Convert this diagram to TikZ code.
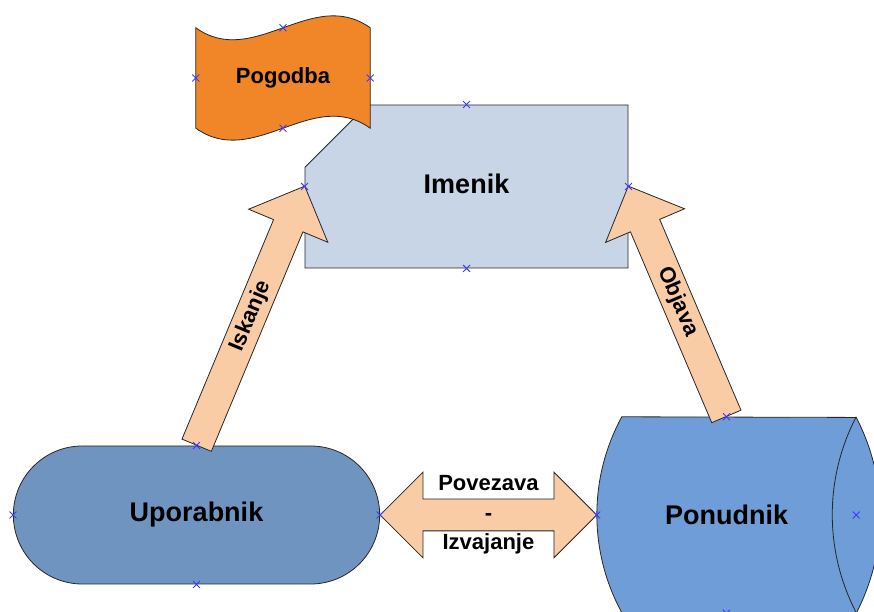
\documentclass[tikz,border=0pt]{standalone}
\usepackage{fontspec}
\setmainfont{Liberation Sans}
\usetikzlibrary{shapes,shapes.arrows,shapes.misc,calc}
\definecolor{imenikblue}{HTML}{C8D5E6}
\definecolor{pogodbaorange}{HTML}{F08628}
\definecolor{uporabnikblue}{HTML}{7094C0}
\definecolor{ponudnikblue}{HTML}{6E9DD8}
\definecolor{arrowpeach}{HTML}{FACCA6}
\definecolor{markblue}{HTML}{3B3BFF}

\begin{document}
\begin{tikzpicture}
  [x=1pt, y=1pt,
   entity/.style={
     draw=black!85,
     line width=0.8pt,
     font=\fontsize{27}{32}\selectfont\bfseries
     },
   fatarrow/.style={
     draw=black!85,
     line width=0.8pt,
     fill=arrowpeach,
     text height=15pt,
     text depth=4pt,
     inner ysep=6pt,
     single arrow head extend=27pt,
     double arrow head extend=27pt
     },
   arrowtext/.style={font=\fontsize{22}{29.5}\selectfont\bfseries, align=center},
   anchormark/.style={cross out, draw=markblue, line width=0.9pt, minimum size=6pt, inner sep=0pt}
  ]
  \useasboundingbox (0,0) rectangle (874,612);

  \node [
    entity,
    chamfered rectangle,
    chamfered rectangle corners=north west,
    chamfered rectangle xsep=54pt,
    chamfered rectangle ysep=54pt,
    fill=imenikblue,
    minimum width=323pt,
    minimum height=163pt,
    text depth=6pt
    ]
    (imenik) at (466.5,425.5) {Imenik};

  % zastavica
  \node [minimum width=174pt, minimum height=100pt] (pogodba) at (283,534) {};
  \filldraw [entity, fill=pogodbaorange]
    (pogodba.north west) .. controls +(58,-41.5) and +(-58,41.5) .. (pogodba.north east)
    -- (pogodba.south east) .. controls +(-58,41.5) and +(58,-41.5) .. (pogodba.south west)
    -- cycle;
  \node [entity, draw=none, font=\fontsize{22}{26}\selectfont\bfseries] (pogodbatext) at (pogodba.center) {Pogodba};

  \node [
    entity,
    rounded rectangle,
    fill=uporabnikblue,
    minimum width=373pt,
    minimum height=138pt
    ]
    (uporabnik) at (196.5,97) {Uporabnik};

  % valj
  \node [minimum width=259pt, minimum height=196pt] (ponudnik) at (726.5,97) {};
  \filldraw [entity, fill=ponudnikblue]
    ($(ponudnik.north west)+(25,0)$) arc[start angle=151.4, end angle=208.6, radius=204.6]
    -- (ponudnik.south east) arc[start angle=-27.5, end angle=27.5, radius=212]
    -- cycle;
  \draw [entity] (ponudnik.north east) arc[start angle=152.5, end angle=207.5, radius=212];
  \node [entity, draw=none] (ponudniktext) at (ponudnik.center) {Ponudnik};

  % puscice
  \path let \p1 = ($(imenik.west)-(uporabnik.north)$) in
    node [fatarrow, single arrow, anchor=tail, rotate={atan2(\y1,\x1)}, minimum height={veclen(\x1,\y1)}]
      (iskanjearrow) at (uporabnik.north) {}
    node [arrowtext, rotate={atan2(\y1,\x1)}]
      (iskanje) at ($(uporabnik.north)!0.5!(imenik.west)$) {Iskanje};

  \path let \p1 = ($(imenik.east)-(ponudnik.north)$) in
    node [fatarrow, single arrow, anchor=tail, rotate={atan2(\y1,\x1)}, minimum height={veclen(\x1,\y1)}]
      (objavaarrow) at (ponudnik.north) {}
    node [arrowtext, rotate={atan2(\y1,\x1)-180}]
      (objava) at ($(ponudnik.north)!0.5!(imenik.east)$) {Objava};

  \path let \p1 = ($(ponudnik.west)-(uporabnik.east)$) in
    node [fatarrow, double arrow, minimum height={veclen(\x1,\y1)}]
      (povezavaarrow) at ($(uporabnik.east)!0.5!(ponudnik.west)$) {}
    node [arrowtext] (povezava) at (povezavaarrow.center) {Povezava\\-\\Izvajanje};

  % tocke
  \foreach \n in {imenik,pogodba,uporabnik,ponudnik}
    \foreach \a in {north,south,east,west}
      \node [anchormark] at (\n.\a) {};
\end{tikzpicture}
\end{document}
